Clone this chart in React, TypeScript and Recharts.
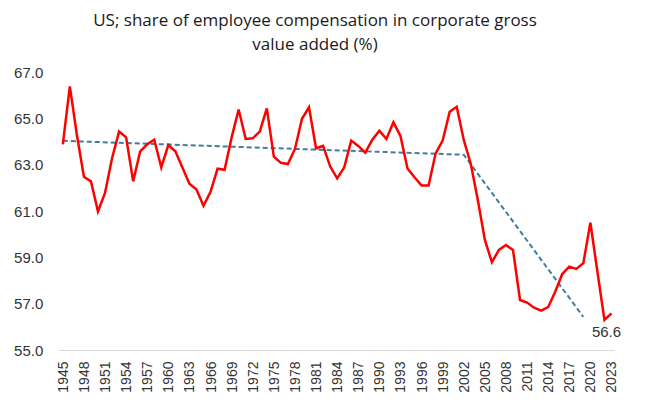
import { LineChart, Line, XAxis, YAxis, LabelList } from "recharts";

const years = Array.from({ length: 79 }, (_, i) => 1945 + i);

// share of employee compensation, %
const shares = [
  63.9, 66.4, 64.3, 62.5, 62.3, 61.0, 61.8, 63.3, 64.45, 64.2,
  62.3, 63.6, 63.9, 64.1, 62.9, 63.87, 63.6, 62.9, 62.2, 61.95,
  61.25, 61.85, 62.85, 62.8, 64.2, 65.4, 64.13, 64.16, 64.45, 65.45,
  63.37, 63.1, 63.05, 63.7, 65.0, 65.5, 63.73, 63.83, 62.95, 62.43,
  62.9, 64.06, 63.83, 63.54, 64.1, 64.49, 64.13, 64.85, 64.26, 62.86,
  62.48, 62.12, 62.12, 63.51, 64.06, 65.31, 65.52, 64.09, 63.05, 61.5,
  59.77, 58.81, 59.34, 59.55, 59.34, 57.18, 57.07, 56.85, 56.72, 56.87,
  57.54, 58.3, 58.62, 58.52, 58.77, 60.52, 58.4, 56.32, 56.6,
];

// dashed trend: break points only
const trendYears = [1945, 2002, 2019];
const trendValues = [64.05, 63.45, 56.45];

const yTicks = [55, 57, 59, 61, 63, 65, 67];
const xTicks = years.filter((y) => (y - 1945) % 3 === 0);

const data = years.map((year, i) => {
  const t = trendYears.indexOf(year);
  return { year, share: shares[i], trend: t >= 0 ? trendValues[t] : null };
});

const tickFont = "'Liberation Sans', Arial, sans-serif";

function YearTick({ x, y, payload }: any) {
  return (
    <text
      x={x}
      y={y}
      transform={`rotate(-90 ${x} ${y})`}
      textAnchor="end"
      dominantBaseline="central"
      fontSize={14}
      fontFamily={tickFont}
      fill="#333"
    >
      {payload.value}
    </text>
  );
}

function LastLabel({ x, y, index, value }: any) {
  if (index !== shares.length - 1) return null;
  return (
    <text
      x={x - 5}
      y={y + 18}
      textAnchor="middle"
      dominantBaseline="central"
      fontSize={15}
      fontFamily={tickFont}
      fill="#333"
    >
      {value.toFixed(1)}
    </text>
  );
}

export default function App() {
  return (
    <div style={{ position: "absolute", left: 0, top: 0, width: 650, height: 414, background: "#fff" }}>
      <div
        style={{
          position: "absolute",
          top: 8,
          left: 0,
          width: 630,
          textAlign: "center",
          fontFamily: "'Open Sans', sans-serif",
          fontSize: 17,
          lineHeight: "24px",
          color: "#1a1a1a",
        }}
      >
        US; share of employee compensation in corporate gross
        <br />
        value added (%)
      </div>
      <LineChart
        width={650}
        height={414}
        data={data}
        margin={{ top: 72.5, right: 35, left: 0, bottom: 0 }}
        style={{ position: "absolute", left: 0, top: 0 }}
      >
        <XAxis
          dataKey="year"
          type="number"
          domain={[1944.5, 2023.5]}
          ticks={xTicks}
          interval={0}
          height={63.5}
          axisLine={{ stroke: "#d9d9d9", strokeWidth: 1 }}
          tickLine={false}
          tickSize={0}
          tickMargin={11}
          tick={<YearTick />}
        />
        <YAxis
          domain={[55, 67]}
          ticks={yTicks}
          width={59.3}
          axisLine={false}
          tickLine={false}
          tickSize={0}
          tickMargin={16}
          tickFormatter={(v: number) => v.toFixed(1)}
          tick={{ fontSize: 15, fill: "#333", fontFamily: tickFont }}
        />
        <Line
          dataKey="trend"
          stroke="#3f7e9e"
          strokeWidth={2}
          strokeDasharray="5 3"
          dot={false}
          connectNulls
          isAnimationActive={false}
        />
        <Line
          dataKey="share"
          stroke="#ff0000"
          strokeWidth={2.5}
          dot={false}
          isAnimationActive={false}
        >
          <LabelList dataKey="share" content={<LastLabel />} />
        </Line>
      </LineChart>
    </div>
  );
}
